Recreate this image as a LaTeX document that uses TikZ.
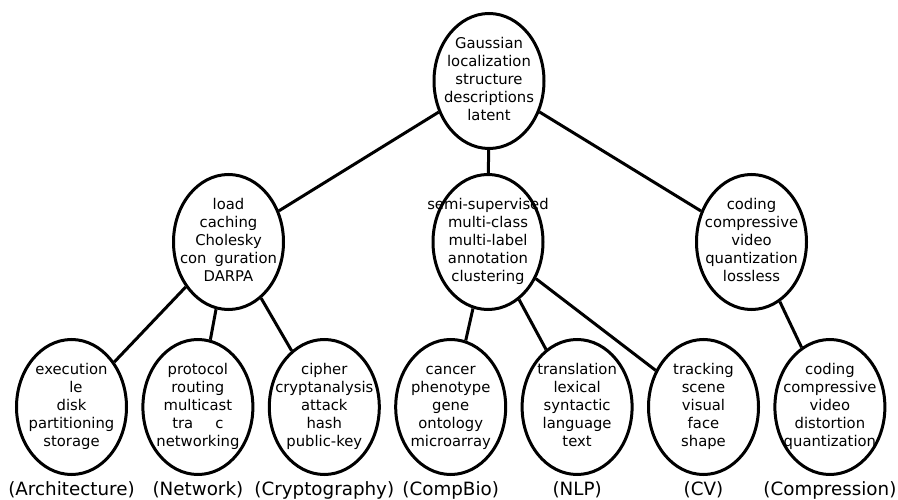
\documentclass[tikz,border=0pt]{standalone}
\usepackage{fontspec}
\setmainfont{DejaVu Sans}
\usepackage{tikz}
\usetikzlibrary{shapes}
\usetikzlibrary{positioning}
\newcommand{\words}[1]{\makebox[0pt]{\begin{tabular}{@{}c@{}}#1\end{tabular}}}

\begin{document}
\begin{tikzpicture}[x=1pt, y=1pt, line width=3pt,
  topic/.style={draw, ellipse, inner sep=0, minimum width=110pt, minimum height=135pt,
    font=\fontsize{14.8}{17.9}\selectfont},
  area/.style={inner sep=0, font=\fontsize{18.3}{22}\selectfont}]
\useasboundingbox (0,0) rectangle (898,499);
\node[topic] (root) at (489,418) {\words{Gaussian\\localization\\structure\\descriptions\\latent}};
\node[topic] (sys) at (228.5,257) {\words{load\\caching\\Cholesky\\con\hspace{.55em}guration\\DARPA}};
\node[topic] (learn) at (488,257) {\words{semi-supervised\\multi-class\\multi-label\\annotation\\clustering}};
\node[topic] (signal) at (751.5,257) {\words{coding\\compressive\\video\\quantization\\lossless}};
\node[topic] (arch) at (71.5,92) {\words{execution\\\hspace{.6em}le\\disk\\partitioning\\storage}};
\node[topic] (net) at (197.9,92) {\words{protocol\\routing\\multicast\\tra\hspace{1.5em}c\\networking}};
\node[topic] (crypto) at (324.3,92) {\words{cipher\\cryptanalysis\\attack\\hash\\public-key}};
\node[topic] (bio) at (450.7,92) {\words{cancer\\phenotype\\gene\\ontology\\microarray}};
\node[topic] (nlp) at (577.1,92) {\words{translation\\lexical\\syntactic\\language\\text}};
\node[topic] (cv) at (703.5,92) {\words{tracking\\scene\\visual\\face\\shape}};
\node[topic] (compress) at (829.9,92) {\words{coding\\compressive\\video\\distortion\\quantization}};
\node[area] (arch_l) [below=4pt of arch] {(Architecture)};
\node[area] (net_l) [below=4pt of net] {(Network)};
\node[area] (crypto_l) [below=4pt of crypto] {(Cryptography)};
\node[area] (bio_l) [below=4pt of bio] {(CompBio)};
\node[area] (nlp_l) [below=4pt of nlp] {(NLP)};
\node[area] (cv_l) [below=4pt of cv] {(CV)};
\node[area] (compress_l) [below=4pt of compress] {(Compression)};
\path (root) edge (sys) edge (learn) edge (signal);
\path (sys) edge (arch) edge (net) edge (crypto);
\path (learn) edge (bio) edge (nlp) edge (cv);
\path (signal) edge (compress);
\end{tikzpicture}
\end{document}
